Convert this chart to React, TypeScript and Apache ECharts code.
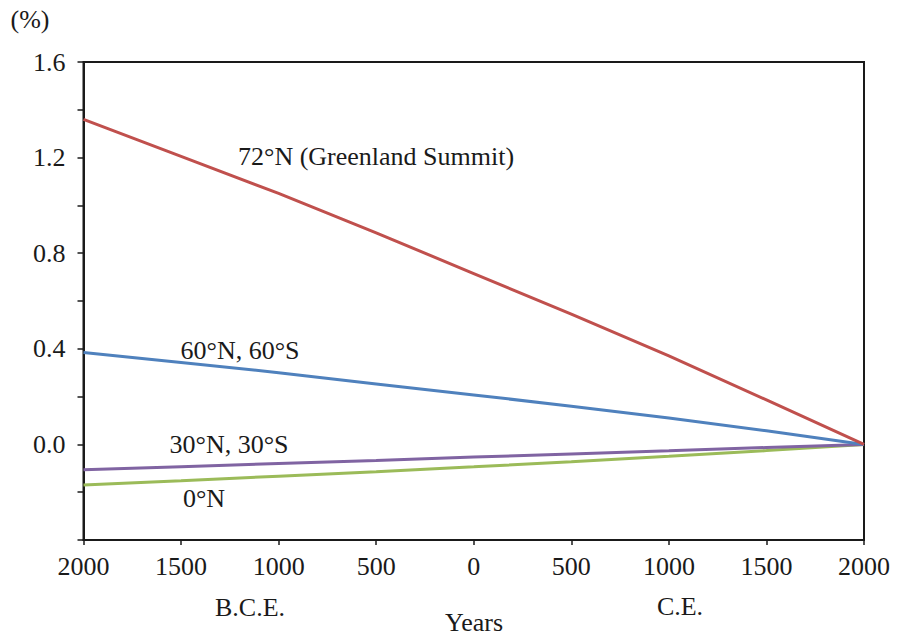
import React, { useEffect, useRef } from "react";
import * as echarts from "echarts";

// Years (negative = B.C.E.)
const years = [-2000, -1500, -1000, -500, 0, 500, 1000, 1500, 2000];

// Insolation change relative to present (%)
const lat72N = [1.36, 1.205, 1.05, 0.885, 0.715, 0.545, 0.37, 0.186, 0];
const lat60 = [0.385, 0.343, 0.3, 0.253, 0.207, 0.16, 0.11, 0.057, 0];
const lat30 = [-0.106, -0.093, -0.08, -0.067, -0.053, -0.04, -0.027, -0.013, 0];
const lat0 = [-0.17, -0.152, -0.133, -0.114, -0.094, -0.073, -0.05, -0.026, 0];

const seriesNames = ["72°N (Greenland Summit)", "60°N, 60°S", "30°N, 30°S", "0°N"];
const seriesColors = ["#C0504D", "#4F81BD", "#8064A2", "#9BBB59"];
const seriesValues = [lat72N, lat60, lat30, lat0];

const FONT = "Liberation Serif";
const FS = 26;
const INK = "#1a1a1a";

export default function App() {
  const ref = useRef<HTMLDivElement>(null);

  useEffect(() => {
    document.body.style.margin = "0";
    if (!ref.current) return;
    const chart = echarts.init(ref.current, undefined, { renderer: "svg" });

    const textStyle = { fontFamily: FONT, fontSize: FS, fill: INK };

    chart.setOption({
      animation: false,
      backgroundColor: "#ffffff",
      textStyle: { fontFamily: FONT, fontSize: FS, color: INK },
      grid: {
        left: 83.5,
        right: 38,
        top: 62,
        bottom: 96,
        show: true,
        borderColor: INK,
        borderWidth: 2,
        backgroundColor: "transparent",
      },
      xAxis: {
        type: "value",
        min: -2000,
        max: 2000,
        interval: 500,
        axisLine: { show: true, onZero: false, lineStyle: { color: INK, width: 2 } },
        axisTick: { show: true, inside: false, length: 5, lineStyle: { color: INK, width: 1.5 } },
        splitLine: { show: false },
        axisLabel: {
          margin: 13,
          fontFamily: FONT,
          fontSize: FS,
          color: INK,
          formatter: (v: number) => String(Math.abs(v)),
        },
      },
      yAxis: {
        type: "value",
        min: -0.4,
        max: 1.6,
        interval: 0.4,
        axisLine: { show: true, onZero: false, lineStyle: { color: INK, width: 2 } },
        axisTick: { show: true, inside: false, length: 6, lineStyle: { color: INK, width: 1.5 } },
        minorTick: { show: true, splitNumber: 2, length: 6, lineStyle: { color: INK, width: 1.5 } },
        splitLine: { show: false },
        axisLabel: {
          margin: 18,
          fontFamily: FONT,
          fontSize: FS,
          color: INK,
          formatter: (v: number) => (Math.abs(v + 0.4) < 1e-6 ? "" : v.toFixed(1)),
        },
      },
      series: seriesValues.map((vals, i) => ({
        type: "line",
        name: seriesNames[i],
        data: years.map((y, k) => [y, vals[k]]),
        showSymbol: false,
        symbol: "none",
        smooth: false,
        lineStyle: { color: seriesColors[i], width: 3 },
        z: 10 - i,
      })),
      graphic: [
        { type: "text", x: 30, y: 19, style: { ...textStyle, text: "(%)", textAlign: "center", textVerticalAlign: "middle" } },
        { type: "text", x: 238, y: 156, style: { ...textStyle, text: seriesNames[0], textVerticalAlign: "middle" } },
        { type: "text", x: 240, y: 350, style: { ...textStyle, text: seriesNames[1], textAlign: "center", textVerticalAlign: "middle" } },
        { type: "text", x: 229, y: 444, style: { ...textStyle, text: seriesNames[2], textAlign: "center", textVerticalAlign: "middle" } },
        { type: "text", x: 204, y: 498, style: { ...textStyle, text: seriesNames[3], textAlign: "center", textVerticalAlign: "middle" } },
        { type: "text", x: 250, y: 607, style: { ...textStyle, text: "B.C.E.", textAlign: "center", textVerticalAlign: "middle" } },
        { type: "text", x: 680, y: 606, style: { ...textStyle, text: "C.E.", textAlign: "center", textVerticalAlign: "middle" } },
        { type: "text", x: 474, y: 622, style: { ...textStyle, text: "Years", textAlign: "center", textVerticalAlign: "middle" } },
      ],
    });

    return () => chart.dispose();
  }, []);

  return <div ref={ref} style={{ width: 902, height: 636 }} />;
}
